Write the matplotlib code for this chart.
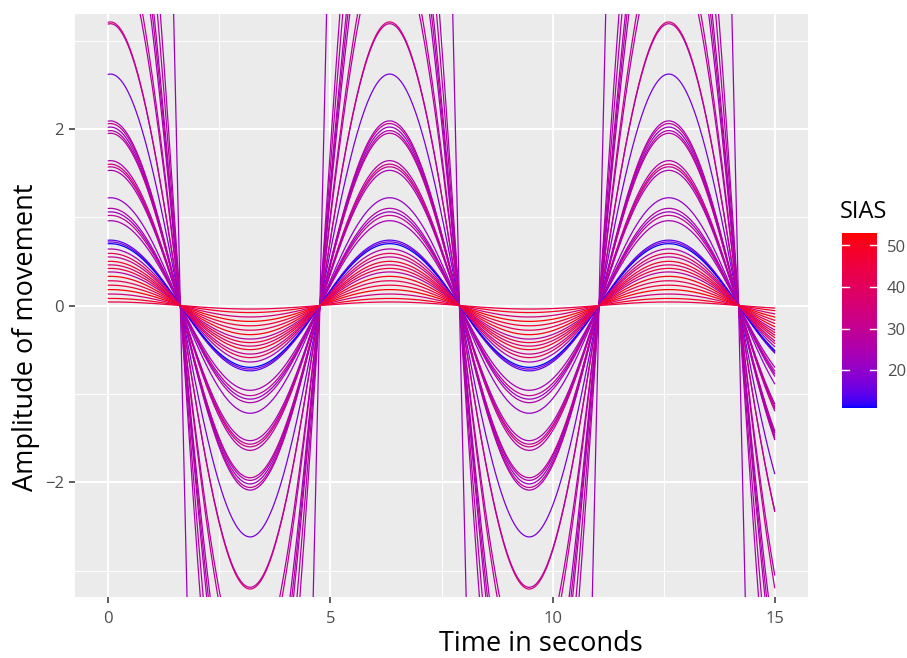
import numpy as np
import matplotlib
matplotlib.use("Agg")
import matplotlib.pyplot as plt
from matplotlib.colors import ListedColormap, Normalize

# ---- data ----
amplitude = [22.0, 7.6, 6.7, 5.9, 5.6, 5.3, 4.4, 4.2,
             3.21, 3.19, 2.62,
             2.09, 2.06, 2.02, 1.98, 1.95,
             1.64, 1.60, 1.57, 1.53,
             1.22,
             1.10, 1.06, 1.02, 0.96,
             0.74, 0.72, 0.70,
             0.64, 0.59, 0.55, 0.50, 0.46, 0.42, 0.38, 0.33,
             0.28, 0.23, 0.18, 0.13, 0.08, 0.04]
sias = [22, 25, 27, 24, 29, 23, 31, 26,
        36, 28, 17,
        24, 30, 22, 26, 28,
        26, 33, 30, 24,
        21,
        26, 22, 30, 24,
        14, 18, 11,
        25, 40, 31, 48, 37, 45, 28, 52,
        42, 47, 53, 35, 50, 44]
x_ticks = [0, 5, 10, 15]
y_ticks = [-2, 0, 2]
legend_ticks = [20, 30, 40, 50]

time_s = np.linspace(0, 15, 1501)
phase = 0.05


# ---- ggplot-like blue->red gradient interpolated in Lab ----
def srgb_to_lab(rgb):
    rgb = np.asarray(rgb, float)
    lin = np.where(rgb <= 0.04045, rgb / 12.92, ((rgb + 0.055) / 1.055) ** 2.4)
    M = np.array([[0.4124564, 0.3575761, 0.1804375],
                  [0.2126729, 0.7151522, 0.0721750],
                  [0.0193339, 0.1191920, 0.9503041]])
    xyz = M @ lin
    wp = np.array([0.95047, 1.0, 1.08883])
    t = xyz / wp
    f = np.where(t > (6 / 29) ** 3, np.cbrt(t), t / (3 * (6 / 29) ** 2) + 4 / 29)
    return np.array([116 * f[1] - 16, 500 * (f[0] - f[1]), 200 * (f[1] - f[2])])


def lab_to_srgb(lab):
    L, a, b = lab
    fy = (L + 16) / 116
    fx = fy + a / 500
    fz = fy - b / 200
    d = 6 / 29
    f = np.array([fx, fy, fz])
    t = np.where(f > d, f ** 3, 3 * d ** 2 * (f - 4 / 29))
    xyz = t * np.array([0.95047, 1.0, 1.08883])
    Minv = np.array([[3.2404542, -1.5371385, -0.4985314],
                     [-0.9692660, 1.8760108, 0.0415560],
                     [0.0556434, -0.2040259, 1.0572252]])
    lin = Minv @ xyz
    lin = np.clip(lin, 0, 1)
    rgb = np.where(lin <= 0.0031308, 12.92 * lin, 1.055 * lin ** (1 / 2.4) - 0.055)
    return np.clip(rgb, 0, 1)


lab_lo = srgb_to_lab([0, 0, 1])
lab_hi = srgb_to_lab([1, 0, 0])
cols = [lab_to_srgb(lab_lo + (lab_hi - lab_lo) * f) for f in np.linspace(0, 1, 256)]
cmap = ListedColormap(cols)
norm = Normalize(vmin=min(sias), vmax=max(sias))

plt.rcParams['font.family'] = ['Open Sans', 'DejaVu Sans']

W, H = 907, 658
fig = plt.figure(figsize=(W / 100, H / 100), dpi=100)
ax = fig.add_axes([75 / W, 1 - 597 / H, (808 - 75) / W, (597 - 14) / H])
ax.set_facecolor('#EBEBEB')
for sp in ax.spines.values():
    sp.set_visible(False)

ax.set_xlim(-0.75, 15.75)
ax.set_ylim(-3.3, 3.3)
ax.set_xticks(x_ticks)
ax.set_xticks([2.5, 7.5, 12.5], minor=True)
ax.set_yticks(y_ticks)
ax.set_yticks([-3, -1, 1, 3], minor=True)
ax.grid(which='major', color='white', lw=1.4)
ax.grid(which='minor', color='white', lw=0.7)
ax.set_axisbelow(True)
ax.tick_params(which='major', length=4, width=1.1, color='#333333',
               labelcolor='#4D4D4D', labelsize=12)
ax.tick_params(axis='x', which='major', pad=6)
ax.tick_params(axis='y', which='major', pad=4)
ax.tick_params(which='minor', length=0)

for a, s in zip(amplitude, sias):
    ax.plot(time_s, a * np.cos(time_s - phase), color=cmap(norm(s)), lw=0.9)

fig.text(541 / W, 1 - 644 / H, 'Time in seconds', ha='center', va='center',
         fontsize=19.5, color='black')
fig.text(26 / W, 1 - 337 / H, 'Amplitude of movement', ha='center', va='center',
         rotation=90, fontsize=19.5, color='black')

# ---- colour bar legend ----
smin, smax = min(sias), max(sias)
cax = fig.add_axes([842 / W, 1 - 408 / H, 35 / W, (408 - 233) / H])
grad = np.linspace(smin, smax, 256).reshape(-1, 1)
cax.imshow(grad, aspect='auto', cmap=cmap, norm=norm, origin='lower',
           extent=[0, 1, smin, smax])
cax.set_xlim(0, 1)
cax.set_ylim(smin, smax)
for v in legend_ticks:
    cax.plot([0, 0.2], [v, v], color='white', lw=1)
    cax.plot([0.8, 1], [v, v], color='white', lw=1)
cax.set_xticks([])
cax.set_yticks(legend_ticks)
cax.yaxis.tick_right()
cax.tick_params(length=0, labelcolor='#4D4D4D', labelsize=12, pad=7)
for sp in cax.spines.values():
    sp.set_visible(False)
fig.text(840 / W, 1 - 212 / H, 'SIAS', ha='left', va='center', fontsize=17,
         color='black')

fig.savefig('out.png', dpi=100)
